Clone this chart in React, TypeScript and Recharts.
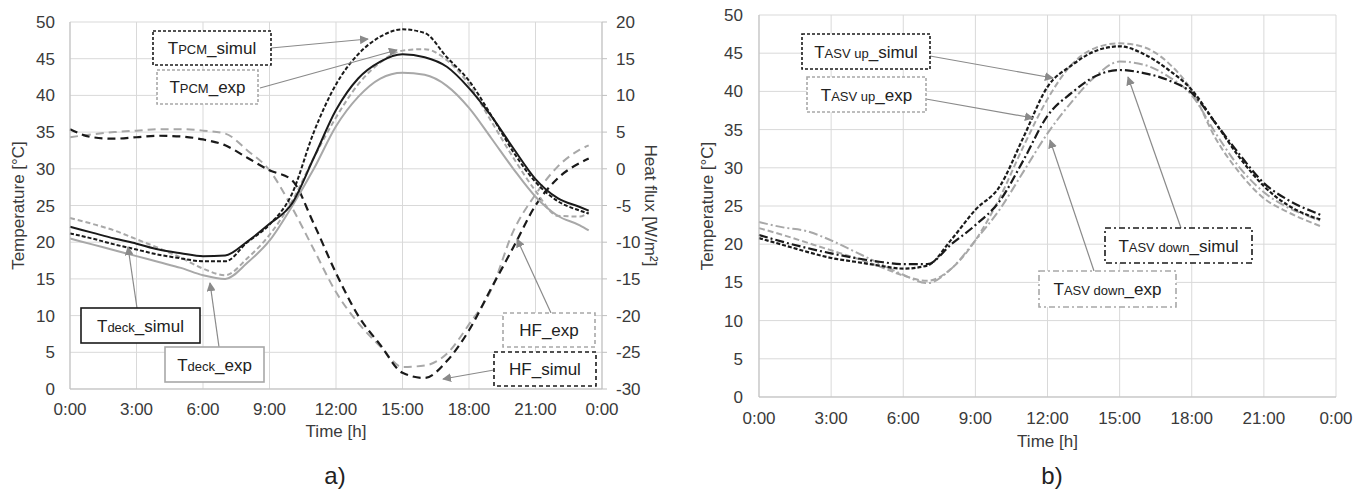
import React from 'react';
import { LineChart, Line, XAxis, YAxis, CartesianGrid, Label } from 'recharts';

// time of day [h]
const hours = [0, 1, 2, 3, 4, 5, 6, 7, 8, 9, 10, 11, 12, 13, 14, 15, 16, 17, 18, 19, 20, 21, 22, 23, 23.4];
const timeTicks = [0, 3, 6, 9, 12, 15, 18, 21, 24];
const tempTicks = [0, 5, 10, 15, 20, 25, 30, 35, 40, 45, 50];
const fluxTicks = [-30, -25, -20, -15, -10, -5, 0, 5, 10, 15, 20];

// a) deck / PCM temperatures [°C]
const deckSimul = [22.1, 21.3, 20.5, 19.8, 19.0, 18.5, 18.1, 18.2, 20.1, 22.5, 25.2, 31.5, 38.0, 42.3, 44.6, 45.6, 45.2, 43.9, 41.0, 37.2, 32.8, 28.6, 26.0, 24.8, 24.3];
const deckExp = [20.5, 19.7, 18.9, 18.1, 17.3, 16.5, 15.5, 15.0, 17.2, 20.2, 24.8, 30.0, 35.8, 39.8, 42.3, 43.1, 42.8, 41.3, 38.3, 34.2, 30.0, 26.2, 23.6, 22.3, 21.6];
const pcmSimul = [21.2, 20.5, 19.7, 19.0, 18.3, 17.8, 17.4, 17.4, 20.0, 22.4, 26.5, 35.0, 41.5, 45.6, 48.0, 49.0, 48.5, 45.2, 42.0, 37.3, 32.3, 28.2, 25.6, 24.3, 23.9];
const pcmExp = [23.3, 22.5, 21.6, 20.4, 19.2, 17.9, 16.4, 15.5, 17.8, 21.0, 25.5, 31.5, 37.0, 41.5, 44.5, 46.1, 46.3, 44.8, 41.5, 36.5, 31.5, 27.0, 23.6, 23.5, 24.1];
// a) heat flux [W/m²]
const hfSimul = [5.4, 4.3, 4.1, 4.3, 4.5, 4.4, 4.0, 3.2, 1.5, -0.2, -1.5, -7.5, -14.2, -20.0, -24.0, -27.8, -28.5, -26.2, -22.0, -16.3, -10.7, -5.0, -1.3, 0.8, 1.4];
const hfExp = [4.3, 4.7, 5.0, 5.2, 5.4, 5.4, 5.2, 4.8, 2.5, -0.2, -5.2, -11.0, -16.8, -21.0, -24.2, -27.0, -26.8, -25.2, -21.2, -16.5, -8.5, -3.5, 0.3, 2.6, 3.2];

// b) ASV temperatures [°C]
const upSimul = [20.8, 19.9, 19.0, 18.2, 17.7, 17.2, 16.8, 17.2, 20.6, 24.5, 27.5, 34.0, 40.6, 43.4, 45.3, 45.9, 44.9, 42.9, 40.2, 35.8, 31.3, 27.6, 25.1, 23.6, 23.2];
const upExp = [22.1, 21.2, 20.2, 19.2, 18.2, 17.1, 15.9, 15.2, 16.8, 20.5, 26.0, 32.8, 39.0, 43.5, 45.7, 46.3, 45.8, 43.8, 40.1, 33.8, 29.3, 26.0, 24.2, 22.8, 22.3];
const downSimul = [21.2, 20.3, 19.5, 18.8, 18.2, 17.7, 17.4, 17.4, 20.0, 22.5, 25.6, 31.0, 36.8, 39.8, 42.0, 42.8, 42.4, 41.5, 39.8, 35.8, 31.7, 28.0, 25.8, 24.3, 23.8];
const downExp = [22.9, 22.2, 21.7, 20.5, 19.0, 17.5, 16.0, 14.9, 16.8, 20.5, 24.5, 29.5, 34.5, 38.6, 42.0, 43.9, 43.5, 42.0, 39.5, 34.5, 30.0, 26.8, 24.8, 23.5, 23.0];

const rowsA = hours.map((h, i) => ({
  h,
  deckSimul: deckSimul[i],
  deckExp: deckExp[i],
  pcmSimul: pcmSimul[i],
  pcmExp: pcmExp[i],
  hfSimul: hfSimul[i],
  hfExp: hfExp[i],
}));

const rowsB = hours.map((h, i) => ({
  h,
  upSimul: upSimul[i],
  upExp: upExp[i],
  downSimul: downSimul[i],
  downExp: downExp[i],
}));

const FONT = '"Liberation Sans", Arial, sans-serif';
const BLACK = '#1a1a1a';
const GREY = '#a8a8a8';
const GRID = '#d9d9d9';
const TXT = '#3a3a3a';

const fmtTime = (h: number) => `${h % 24}:00`;
const tick = { fill: TXT, fontSize: 17 };

type Part = { t: string; small?: boolean };

interface CalloutProps {
  x: number; y: number; w: number; h: number;
  parts: Part[];
  stroke: string;
  dash?: string;
  from: [number, number];
  to: [number, number];
}

const Callout = ({ x, y, w, h, parts, stroke, dash, from, to }: CalloutProps) => (
  <g>
    <line x1={from[0]} y1={from[1]} x2={to[0]} y2={to[1]} stroke="#8a8a8a" strokeWidth={1.2} markerEnd="url(#arr)" />
    <rect x={x} y={y} width={w} height={h} fill="#fff" stroke={stroke} strokeWidth={1.6} strokeDasharray={dash} />
    <text x={x + w / 2} y={y + h / 2 + 6} textAnchor="middle" fill="#222" style={{ fontFamily: FONT }}>
      {parts.map((p, i) => (
        <tspan key={i} fontSize={p.small ? 13 : 17}>{p.t}</tspan>
      ))}
    </text>
  </g>
);

const Annotations = () => (
  <svg width={1366} height={494} style={{ position: 'absolute', left: 0, top: 0, pointerEvents: 'none' }}>
    <defs>
      <marker id="arr" viewBox="0 0 10 10" refX="9" refY="5" markerWidth="9" markerHeight="9" orient="auto" markerUnits="userSpaceOnUse">
        <path d="M0,0 L10,5 L0,10 z" fill="#8a8a8a" />
      </marker>
    </defs>
    {/* a) */}
    <Callout x={153} y={31} w={118} h={34} stroke={BLACK} dash="3 2" parts={[{ t: 'T' }, { t: 'PCM', small: true }, { t: '_simul' }]} from={[271, 48]} to={[368, 39]} />
    <Callout x={157} y={70} w={101} h={34} stroke={GREY} dash="3 2" parts={[{ t: 'T' }, { t: 'PCM', small: true }, { t: '_exp' }]} from={[260, 88]} to={[397, 50]} />
    <Callout x={81} y={308} w={119} h={35} stroke={BLACK} parts={[{ t: 'T' }, { t: 'deck', small: true }, { t: '_simul' }]} from={[137, 308]} to={[128, 247]} />
    <Callout x={165} y={347} w={99} h={35} stroke={GREY} parts={[{ t: 'T' }, { t: 'deck', small: true }, { t: '_exp' }]} from={[219, 347]} to={[210, 283]} />
    <Callout x={503} y={313} w={92} h={34} stroke={GREY} dash="4 3" parts={[{ t: 'HF_exp' }]} from={[551, 313]} to={[517, 239]} />
    <Callout x={494} y={352} w={102} h={34} stroke={BLACK} dash="4 3" parts={[{ t: 'HF_simul' }]} from={[494, 370]} to={[443, 379]} />
    {/* b) */}
    <Callout x={802} y={34} w={128} h={35} stroke={BLACK} dash="3 2" parts={[{ t: 'T' }, { t: 'ASV up', small: true }, { t: '_simul' }]} from={[930, 56]} to={[1053, 78]} />
    <Callout x={807} y={77} w={119} h={35} stroke={GREY} dash="3 2" parts={[{ t: 'T' }, { t: 'ASV up', small: true }, { t: '_exp' }]} from={[926, 99]} to={[1033, 118]} />
    <Callout x={1105} y={228} w={147} h={35} stroke={BLACK} dash="6 3 2 3" parts={[{ t: 'T' }, { t: 'ASV down', small: true }, { t: '_simul' }]} from={[1181, 228]} to={[1128, 77]} />
    <Callout x={1039} y={271} w={137} h={36} stroke={GREY} dash="6 3 2 3" parts={[{ t: 'T' }, { t: 'ASV down', small: true }, { t: '_exp' }]} from={[1094, 271]} to={[1050, 140]} />
  </svg>
);

const panelLabel = (left: number, text: string) => (
  <div style={{ position: 'absolute', left, top: 462, width: 40, textAlign: 'center', fontFamily: FONT, fontSize: 24, color: '#222' }}>{text}</div>
);

export default function App() {
  return (
    <div style={{ position: 'absolute', left: 0, top: 0, width: 1366, height: 494, background: '#fff', fontFamily: FONT }}>
      <div style={{ position: 'absolute', left: 0, top: 0 }}>
        <LineChart width={680} height={494} data={rowsA} margin={{ top: 22, right: 0, bottom: 0, left: 0 }}>
          <CartesianGrid stroke={GRID} yAxisId="l" />
          <XAxis dataKey="h" type="number" domain={[0, 24]} ticks={timeTicks} interval={0} tickFormatter={fmtTime}
            height={105} tick={tick} tickLine={false} tickSize={6} tickMargin={8} axisLine={{ stroke: '#bfbfbf' }}>
            <Label value="Time [h]" position="insideTop" offset={36} fontSize={17} fill={TXT} />
          </XAxis>
          <YAxis yAxisId="l" type="number" domain={[0, 50]} ticks={tempTicks} interval={0} width={70}
            tick={tick} tickLine={false} tickSize={6} tickMargin={9} axisLine={{ stroke: '#bfbfbf' }}>
            <Label value="Temperature [°C]" angle={-90} position="insideLeft" offset={18} textAnchor="middle" fontSize={17} fill={TXT} />
          </YAxis>
          <YAxis yAxisId="r" orientation="right" type="number" domain={[-30, 20]} ticks={fluxTicks} interval={0} width={78}
            tick={tick} tickLine={{ stroke: '#bfbfbf' }} tickSize={5} tickMargin={9} axisLine={{ stroke: '#bfbfbf' }}>
            <Label value="Heat flux [W/m²]" angle={90} position="insideRight" offset={29} textAnchor="middle" fontSize={17} fill={TXT} />
          </YAxis>
          <Line yAxisId="r" type="monotone" dataKey="hfExp" stroke={GREY} strokeWidth={2} strokeDasharray="8 5" dot={false} isAnimationActive={false} />
          <Line yAxisId="r" type="monotone" dataKey="hfSimul" stroke={BLACK} strokeWidth={2.2} strokeDasharray="8 5" dot={false} isAnimationActive={false} />
          <Line yAxisId="l" type="monotone" dataKey="deckExp" stroke={GREY} strokeWidth={2} dot={false} isAnimationActive={false} />
          <Line yAxisId="l" type="monotone" dataKey="pcmExp" stroke={GREY} strokeWidth={2} strokeDasharray="5 3" dot={false} isAnimationActive={false} />
          <Line yAxisId="l" type="monotone" dataKey="deckSimul" stroke={BLACK} strokeWidth={2} dot={false} isAnimationActive={false} />
          <Line yAxisId="l" type="monotone" dataKey="pcmSimul" stroke={BLACK} strokeWidth={2} strokeDasharray="4 2" dot={false} isAnimationActive={false} />
        </LineChart>
      </div>
      <div style={{ position: 'absolute', left: 690, top: 0 }}>
        <LineChart width={676} height={494} data={rowsB} margin={{ top: 15, right: 30, bottom: 0, left: 0 }}>
          <CartesianGrid stroke={GRID} />
          <XAxis dataKey="h" type="number" domain={[0, 24]} ticks={timeTicks} interval={0} tickFormatter={fmtTime}
            height={97} tick={tick} tickLine={false} tickSize={6} tickMargin={9} axisLine={{ stroke: '#bfbfbf' }}>
            <Label value="Time [h]" position="insideTop" offset={38} fontSize={17} fill={TXT} />
          </XAxis>
          <YAxis type="number" domain={[0, 50]} ticks={tempTicks} interval={0} width={69}
            tick={tick} tickLine={false} tickSize={6} tickMargin={10} axisLine={{ stroke: '#bfbfbf' }}>
            <Label value="Temperature [°C]" angle={-90} position="insideLeft" offset={17} textAnchor="middle" fontSize={17} fill={TXT} />
          </YAxis>
          <Line type="monotone" dataKey="upExp" stroke={GREY} strokeWidth={2} strokeDasharray="6 3" dot={false} isAnimationActive={false} />
          <Line type="monotone" dataKey="downExp" stroke={GREY} strokeWidth={2} strokeDasharray="9 3 2 3" dot={false} isAnimationActive={false} />
          <Line type="monotone" dataKey="upSimul" stroke={BLACK} strokeWidth={2.2} strokeDasharray="4 2" dot={false} isAnimationActive={false} />
          <Line type="monotone" dataKey="downSimul" stroke={BLACK} strokeWidth={2.2} strokeDasharray="9 3 2 3" dot={false} isAnimationActive={false} />
        </LineChart>
      </div>
      {panelLabel(315, 'a)')}
      {panelLabel(1032, 'b)')}
      <Annotations />
    </div>
  );
}
